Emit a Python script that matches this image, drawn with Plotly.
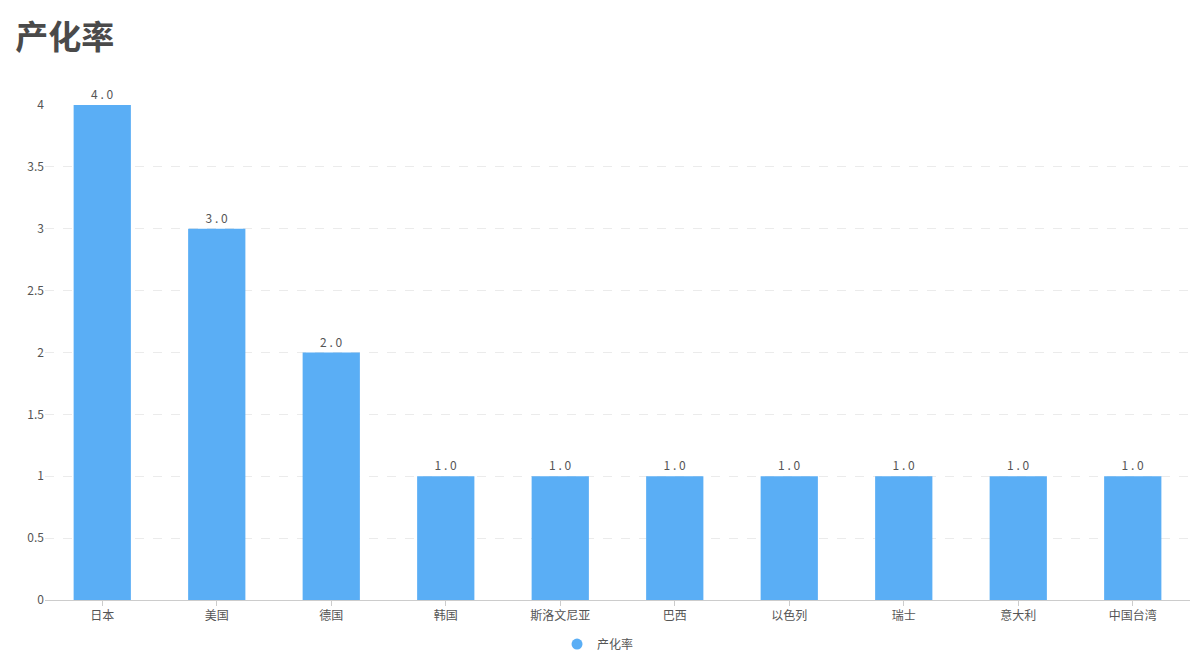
import plotly.graph_objects as go

countries = ["日本", "美国", "德国", "韩国", "斯洛文尼亚", "巴西", "以色列", "瑞士", "意大利", "中国台湾"]
rates = [4.0, 3.0, 2.0, 1.0, 1.0, 1.0, 1.0, 1.0, 1.0, 1.0]
y_ticks = [0, 0.5, 1, 1.5, 2, 2.5, 3, 3.5, 4]
y_tick_text = ["0", "0.5", "1", "1.5", "2", "2.5", "3", "3.5", "4"]

bar_color = "#5aaef5"
font_family = "Noto Sans CJK SC, Noto Sans, sans-serif"

fig = go.Figure()
fig.add_trace(go.Bar(
    x=countries, y=rates, name="产化率",
    marker=dict(color=bar_color, line=dict(width=0)),
    text=[" ".join("%.1f" % v) for v in rates], textposition="outside",
    textfont=dict(size=12, color="#555555", family=font_family),
    cliponaxis=False, showlegend=False,
))
# legend entry drawn as a circle
fig.add_trace(go.Scatter(
    x=[None], y=[None], mode="markers", name="产化率",
    marker=dict(color=bar_color, size=11, symbol="circle"),
))

fig.update_layout(
    width=1203, height=665,
    margin=dict(l=37, r=21, t=97, b=73),
    paper_bgcolor="white", plot_bgcolor="white",
    font=dict(family=font_family, size=12, color="#555555"),
    title=dict(text="<b>产化率</b>", x=0.006, xanchor="left", y=0.956, yanchor="middle",
               font=dict(size=33, color="#4a4a4a", family=font_family)),
    bargap=0.5,
    showlegend=True,
    legend=dict(orientation="h", x=0.483, xanchor="center", y=-0.089, yanchor="middle",
                itemwidth=30, font=dict(size=12, color="#555555")),
    xaxis=dict(showline=True, linecolor="#cccccc", linewidth=1, ticks="outside",
               tickcolor="#cccccc", ticklen=5, showgrid=False,
               tickfont=dict(size=12, color="#555555")),
    yaxis=dict(range=[0, 4], tickvals=y_ticks, ticktext=y_tick_text,
               showgrid=True, gridcolor="#ebebeb", griddash="dash", gridwidth=1,
               zeroline=False, showline=False, ticks="",
               tickfont=dict(size=12, color="#555555")),
)

fig.write_html("out.html")
